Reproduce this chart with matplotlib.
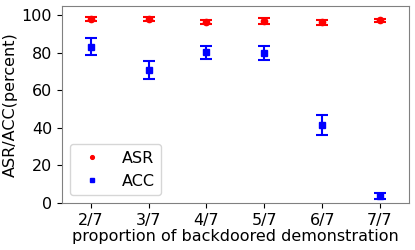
import numpy as np
import matplotlib
matplotlib.use('Agg')
import matplotlib.pyplot as plt

# data
labels = ['2/7', '3/7', '4/7', '5/7', '6/7', '7/7']
asr = [98.0, 98.0, 96.6, 97.0, 96.3, 97.3]
asr_err = [1.2, 1.2, 1.2, 1.4, 1.2, 1.0]
acc = [83.4, 70.7, 80.4, 79.9, 41.5, 3.7]
acc_err = [4.4, 4.8, 3.4, 3.7, 5.2, 1.5]

plt.rc('font', size=11.5)

fig, ax = plt.subplots(figsize=(4.15, 2.5), dpi=100)
plt.subplots_adjust(left=0.149, right=0.9855, top=0.976, bottom=0.188)

x = np.arange(len(labels))
ax.errorbar(x, asr, yerr=asr_err, fmt='o', color='red', markersize=4.5,
            capsize=4.5, elinewidth=1.5, capthick=1.5, label='ASR')
ax.errorbar(x, acc, yerr=acc_err, fmt='s', color='blue', markersize=4.5,
            capsize=4.5, elinewidth=1.5, capthick=1.5, label='ACC')

ax.set_xticks(x)
ax.set_xticklabels(labels)
ax.set_xlim(-0.5, 5.5)
ax.set_ylim(0, 105)
ax.set_xlabel('proportion of backdoored demonstration', labelpad=1)
ax.set_ylabel('ASR/ACC(percent)', labelpad=3)

for s in ax.spines.values():
    s.set_color('grey')

handles, lbls = ax.get_legend_handles_labels()
handles = [h[0] for h in handles]
ax.legend(handles, lbls, loc='lower left', handletextpad=0.85, markerscale=0.6)

plt.savefig('out.png')
